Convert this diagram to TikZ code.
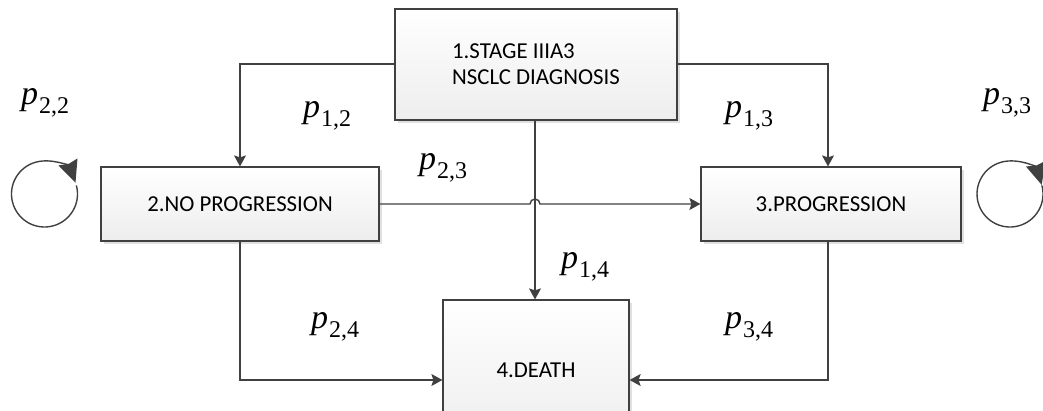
\documentclass[tikz,border=0pt]{standalone}
\usepackage{fontspec}
\setmainfont{Carlito}
\newfontfamily\probfont{Liberation Serif}
\usetikzlibrary{arrows.meta,shadows}
\definecolor{edge}{HTML}{404040}
% transition probability: italic p with an upright, lowered index
\newcommand{\trp}[1]{{\probfont\fontsize{34}{38}\selectfont\itshape p\kern1pt}%
  \raisebox{-9pt}{\probfont\fontsize{24}{28}\selectfont #1}}
\tikzset{
  state/.style={draw=edge, line width=1.2pt, rectangle, inner sep=0pt,
    top color=white, bottom color=black!7,
    drop shadow={shadow xshift=3pt, shadow yshift=-3pt, opacity=0.12, fill=black},
    font=\fontsize{22.8}{26}\selectfont},
  link/.style={draw=edge, line width=1.4pt,
    -{Stealth[length=11pt,width=12pt,inset=2pt]}},
  prob/.style={inner sep=0pt},
  loopline/.style={draw=edge, line width=1.4pt,
    -{Stealth[length=22pt,width=20pt,inset=2pt]}}
}
\begin{document}
\begin{tikzpicture}[x=1pt,y=-1pt]
  \useasboundingbox (0,0) rectangle (1043,410);
  \clip (0,0) rectangle (1043,410);

  % states
  \node[state, minimum width=282pt, minimum height=111pt, align=left] (s1) at (536,64.5)
    {1.STAGE IIIA3\\NSCLC DIAGNOSIS};
  \node[state, minimum width=278pt, minimum height=74pt] (s2) at (240,204) {2.NO PROGRESSION};
  \node[state, minimum width=260pt, minimum height=74pt] (s3) at (831,204) {3.PROGRESSION};
  \node[state, minimum width=186pt, minimum height=140pt] (s4) at (536,370) {4.DEATH};

  % transitions out of state 1
  \draw[link] (s1.west |- 0,64) -| (s2.north);
  \draw[link] (s1.east |- 0,64) -| ([xshift=-3pt]s3.north);
  \draw[link] (s1.south -| 535,0) -- (s4.north -| 535,0);

  % state 2 to state 3, hopping over the vertical line
  \coordinate (h1) at (530,204);
  \draw[link] (s2.east) -- (h1) arc[start angle=180, end angle=360, radius=5] -- (s3.west);

  % transitions into death
  \draw[link] (s2.south) |- (s4.west |- 0,380);
  \draw[link] ([xshift=-3pt]s3.south) |- (s4.east |- 0,380);

  % self loops
  \coordinate (c2) at (44.5,194);
  \coordinate (c3) at (1010,194);
  \draw[loopline] (c2) ++(-375:33) arc[start angle=-375, end angle=-20, radius=33];
  \draw[loopline] (c3) ++(-375:33) arc[start angle=-375, end angle=-16, radius=33];

  % transition probabilities
  \node[prob] (p22) at (45,103) {\trp{2,2}};
  \node[prob] (p12) at (327,116) {\trp{1,2}};
  \node[prob] (p23) at (443,168) {\trp{2,3}};
  \node[prob] (p13) at (749,116) {\trp{1,3}};
  \node[prob] (p33) at (1007,103) {\trp{3,3}};
  \node[prob] (p14) at (585,267) {\trp{1,4}};
  \node[prob] (p24) at (335,327) {\trp{2,4}};
  \node[prob] (p34) at (749,327) {\trp{3,4}};
\end{tikzpicture}
\end{document}
